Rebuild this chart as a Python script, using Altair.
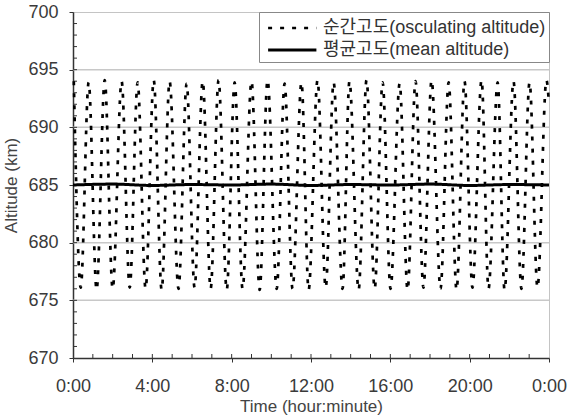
import altair as alt
import pandas as pd

# Osculating altitude extrema (hours, km)
peak_times = [0.04, 0.79, 1.60, 2.45, 3.26, 4.07, 4.87, 5.73, 6.54, 7.34,
              8.15, 9.00, 9.81, 10.67, 11.52, 12.33, 13.14, 13.94, 14.80, 15.61,
              16.47, 17.27, 18.08, 18.94, 19.74, 20.60, 21.41, 22.21, 23.02, 23.87]
peak_alt = [694.0, 693.9, 694.1, 694.0, 693.9, 694.1, 694.0, 693.8, 694.0, 694.1,
            693.9, 694.0, 694.1, 693.8, 693.9, 694.1, 693.9, 694.0, 694.1, 693.9,
            693.8, 694.0, 694.1, 693.9, 694.0, 694.1, 693.9, 694.0, 693.9, 694.1]
trough_times = [0.39, 1.19, 2.00, 2.86, 3.66, 4.47, 5.32, 6.13, 6.94, 7.75,
                8.55, 9.41, 10.27, 11.07, 11.88, 12.74, 13.59, 14.40, 15.21, 16.01,
                16.87, 17.67, 18.53, 19.34, 20.14, 20.95, 21.76, 22.61, 23.42]
trough_alt = [676.1, 675.9, 676.0, 676.1, 676.0, 675.9, 676.0, 676.1, 676.0, 675.9,
              676.0, 675.9, 676.0, 676.0, 675.9, 676.1, 676.0, 675.9, 676.0, 676.0,
              675.9, 676.1, 676.0, 675.9, 676.1, 676.0, 675.9, 676.0, 676.1]
end_times = [24.0]
end_alt = [692.0]

# Mean altitude
mean_times = [0, 2, 4, 6, 8, 10, 12, 14, 16, 18, 20, 22, 24]
mean_alt = [685.0, 685.08, 684.96, 685.04, 685.0, 685.08, 684.96, 685.04, 685.0, 685.08, 684.96, 685.04, 685.0]

series_names = ["순간고도(osculating altitude)", "평균고도(mean altitude)"]

x_ticks = [0, 4, 8, 12, 16, 20, 24]
y_ticks = [670, 675, 680, 685, 690, 695, 700]
grid_vals = [675, 680, 685, 690, 695]
x_minor = list(range(1, 24))
y_minor = list(range(671, 700))

osc = sorted(zip(peak_times + trough_times + end_times, peak_alt + trough_alt + end_alt))
rows = [{"t": t, "alt": a, "series": series_names[0], "o": i} for i, (t, a) in enumerate(osc)]
rows += [{"t": t, "alt": a, "series": series_names[1], "o": i} for i, (t, a) in enumerate(zip(mean_times, mean_alt))]
df = pd.DataFrame(rows)

FONT = "Liberation Sans"
xscale = alt.Scale(domain=[0, 24], nice=False, zero=False)
yscale = alt.Scale(domain=[670, 700], nice=False, zero=False)

x_axis = alt.Axis(values=x_ticks, labelExpr="(datum.value % 24) + ':00'",
                  title="Time (hour:minute)", grid=False, tickSize=4,
                  labelPadding=15, titlePadding=3, labelFlush=False,
                  labelOverlap=False)
y_axis = alt.Axis(values=y_ticks, title="Altitude (km)", grid=False, tickSize=4,
                  labelPadding=11, titlePadding=7, labelFlush=False)

grid = alt.Chart(pd.DataFrame({"g": grid_vals})).mark_rule(color="#c8c8c8", strokeWidth=1.5).encode(
    y=alt.Y("g:Q", scale=yscale, axis=y_axis)
)
ymin = alt.Chart(pd.DataFrame({"m": y_minor})).mark_rule(color="#333", strokeWidth=1).encode(
    y=alt.Y("m:Q", scale=yscale, axis=y_axis), x=alt.value(0), x2=alt.value(4)
)
xmin = alt.Chart(pd.DataFrame({"m": x_minor})).mark_rule(color="#333", strokeWidth=1).encode(
    x=alt.X("m:Q", scale=xscale, axis=x_axis), y=alt.value(346), y2=alt.value(342)
)

legend = alt.Legend(
    title=None, orient="top-right", offset=0, padding=3,
    strokeColor="#888", fillColor="white",
    symbolType="M-0.6,0L3.6,0", symbolSize=529,
    symbolStrokeColor="black", labelFontSize=18, labelFont=FONT + ", Noto Sans CJK KR",
    labelColor="#333", rowPadding=0, labelOffset=35, labelLimit=400,
)

lines = alt.Chart(df).mark_line(color="black", interpolate="monotone").encode(
    x=alt.X("t:Q", scale=xscale, axis=x_axis),
    y=alt.Y("alt:Q", scale=yscale, axis=y_axis),
    strokeDash=alt.StrokeDash("series:N", scale=alt.Scale(domain=series_names, range=[[4, 8], [1, 0]]),
                              legend=legend),
    strokeWidth=alt.StrokeWidth("series:N", scale=alt.Scale(domain=series_names, range=[2.7, 3]),
                                legend=legend),
    order="o:Q",
)

chart = alt.layer(grid, ymin, xmin, lines).properties(
    width=476, height=346,
    autosize=alt.AutoSizeParams(type="none"),
    padding={"left": 73, "top": 12, "right": 18, "bottom": 59},
).configure_view(
    stroke="#888", strokeDash=[1, 1], strokeWidth=1
).configure_axis(
    labelFont=FONT, titleFont=FONT, labelFontSize=18, titleFontSize=17,
    labelColor="#3a3a3a", titleColor="#444", titleFontWeight="normal",
    domainColor="#333", domainWidth=1.5, tickColor="#333",
)

chart.save("out.html", embed_options={"renderer": "svg", "actions": False})
